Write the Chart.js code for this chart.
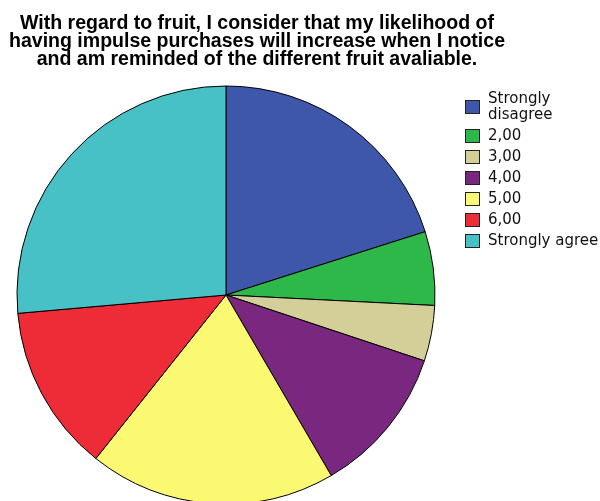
<!DOCTYPE html>
<html>
<head>
<meta charset="utf-8">
<script src="https://cdn.jsdelivr.net/npm/chart.js@4.4.0/dist/chart.umd.min.js"></script>
<style>
  html, body { margin: 0; padding: 0; background: #fff; overflow: hidden; }
  #wrap { position: relative; width: 600px; height: 501px; }
</style>
</head>
<body>
<div id="wrap"><canvas id="pieChartCanvas"></canvas></div>
<script>
const titleLines = [
  "With regard to fruit, I consider that my likelihood of",
  "having impulse purchases will increase when I notice",
  "and am reminded of the different fruit avaliable."
];
const categories = [["Strongly", "disagree"], "2,00", "3,00", "4,00", "5,00", "6,00", "Strongly agree"];
const percentages = [20.1, 5.7, 4.3, 11.5, 19.1, 12.9, 26.4];
const sliceColors = ["#3f57ab", "#2fb84a", "#d4cf98", "#7a287f", "#fbf872", "#ee2c37", "#47c1c6"];

// three-line heading, squeezed horizontally so it stays narrow
const headingPlugin = {
  id: "heading",
  afterDraw(chart) {
    const ctx = chart.ctx;
    ctx.save();
    ctx.font = "bold 20px 'Liberation Sans', Arial, sans-serif";
    ctx.fillStyle = "#000";
    ctx.textAlign = "center";
    ctx.textBaseline = "alphabetic";
    const squeeze = 496 / ctx.measureText(titleLines[1]).width;
    titleLines.forEach((line, i) => {
      ctx.save();
      ctx.translate(257, 28.5 + i * 18);
      ctx.scale(squeeze, 1);
      ctx.fillText(line, 0, 0);
      ctx.restore();
    });
    ctx.restore();
  }
};

// legend on the right; the box sits in the middle of a wrapped label
const sideLegendPlugin = {
  id: "sideLegend",
  afterDraw(chart) {
    const ctx = chart.ctx;
    const labels = chart.data.labels;
    const colors = chart.data.datasets[0].backgroundColor;
    const lineH = 16;
    let top = 91;
    ctx.save();
    ctx.font = "15px 'DejaVu Sans', sans-serif";
    ctx.textBaseline = "middle";
    ctx.textAlign = "left";
    labels.forEach((label, i) => {
      const lines = Array.isArray(label) ? label : [label];
      const blockH = lines.length * lineH;
      const boxTop = top + (blockH - 14) / 2;
      ctx.fillStyle = colors[i];
      ctx.fillRect(465, boxTop, 15, 14);
      ctx.strokeStyle = "#222";
      ctx.lineWidth = 1;
      ctx.strokeRect(465.5, boxTop + 0.5, 14, 13);
      ctx.fillStyle = "#111";
      lines.forEach((t, j) => ctx.fillText(t, 488, top + lineH / 2 + j * lineH));
      top += blockH + 5;
    });
    ctx.restore();
  }
};

new Chart(document.getElementById("pieChartCanvas"), {
  type: "pie",
  data: {
    labels: categories,
    datasets: [
      {
        data: percentages,
        backgroundColor: sliceColors,
        borderColor: "#000",
        borderWidth: 1,
        radius: 209,
        clip: false,
      },
    ],
  },
  options: {
    responsive: true,
    maintainAspectRatio: false,
    animation: false,
    layout: { padding: { top: 92, bottom: 3, left: 0, right: 148 } },
    plugins: {
      legend: { display: false },
      tooltip: { enabled: false },
    },
  },
  plugins: [headingPlugin, sideLegendPlugin],
});
</script>
</body>
</html>
